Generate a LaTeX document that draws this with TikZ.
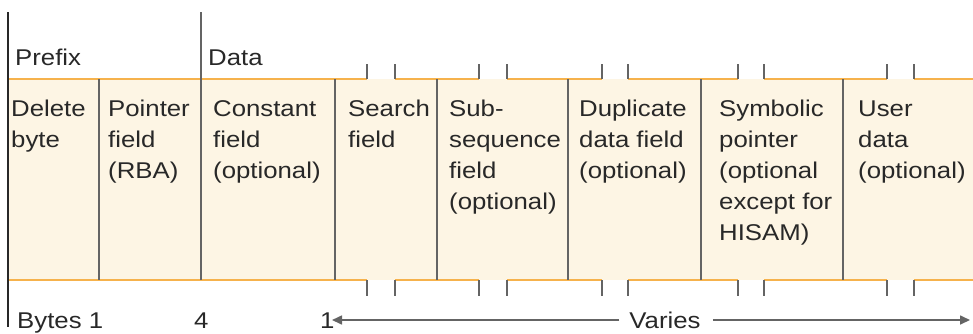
\documentclass[tikz,border=0pt]{standalone}
\usepackage{fontspec}
\setmainfont{Liberation Sans}[FakeStretch=1.13]
\usetikzlibrary{arrows.meta}
\definecolor{cream}{RGB}{253,245,228}
\definecolor{orangeline}{RGB}{246,178,76}
\definecolor{divgray}{RGB}{100,100,100}
\definecolor{txt}{RGB}{40,40,40}
\tikzset{
  divider/.style={draw=divgray, line width=1.8pt},
  edgeline/.style={draw=orangeline, line width=2pt},
  tick/.style={draw=divgray, line width=1.6pt},
  celltext/.style={anchor=base west, inner sep=0pt, text=txt, font=\fontsize{22.8}{31}\selectfont},
  label/.style={anchor=base west, inner sep=0pt, text=txt, font=\fontsize{22.8}{26}\selectfont},
  dimarrow/.style={draw=divgray, line width=1.6pt, -{Triangle[length=10pt,width=9pt]}}
}
\newcommand{\celltxt}[1]{\parbox[t]{4cm}{\raggedright #1}}
\begin{document}
\begin{tikzpicture}[x=1pt,y=-1pt]
\useasboundingbox (0,0) rectangle (973,333);
% fill
\fill[cream] (8,79) rectangle (973,280);
% orange edges with gaps at tick pairs
\foreach \a/\b in {8/367,395/479,507/602,628/738,764/887,914/973}{
  \draw[edgeline] (\a,79) -- (\b,79);
  \draw[edgeline] (\a,280) -- (\b,280);
}
% ticks
\foreach \x in {367,395,479,507,602,628,738,764,887,914}{
  \draw[tick] (\x,64) -- (\x,79);
  \draw[tick] (\x,280) -- (\x,296);
}
% dividers
\foreach \x in {99,335,437,568,701,843}{
  \draw[divider] (\x,79) -- (\x,280);
}
\draw[divider] (201,12) -- (201,280);
\draw[draw=txt, line width=1.8pt] (8,12) -- (8,327);
% labels
\node[label] (prefix) at (15,65) {Prefix};
\node[label] (data) at (208,65) {Data};
% cell texts
\node[celltext] (delete) at (11,116) {\celltxt{Delete\\byte}};
\node[celltext] (pointer) at (108,116) {\celltxt{Pointer\\field\\(RBA)}};
\node[celltext] (constant) at (213,116) {\celltxt{Constant\\field\\(optional)}};
\node[celltext] (search) at (348,116) {\celltxt{Search\\field}};
\node[celltext] (subseq) at (449,116) {\celltxt{Sub-\\sequence\\field\\(optional)}};
\node[celltext] (dup) at (579,116) {\celltxt{Duplicate\\data field\\(optional)}};
\node[celltext] (symb) at (719,116) {\celltxt{Symbolic\\pointer\\(optional\\except for\\HISAM)}};
\node[celltext] (user) at (858,116) {\celltxt{User\\data\\(optional)}};
% bottom
\node[label] (bytes) at (17,328) {Bytes 1};
\node[label] (four) at (194,328) {4};
\node[label] (one) at (320,328) {1};
\node[label, anchor=base] (varies) at (665,328) {Varies};
\coordinate (lefttip) at (332,320);
\coordinate (righttip) at (970,320);
\draw[dimarrow] (varies.west |- lefttip) ++(-10,0) -- (lefttip);
\draw[dimarrow] (varies.east |- righttip) ++(12,0) -- (righttip);
\end{tikzpicture}
\end{document}
